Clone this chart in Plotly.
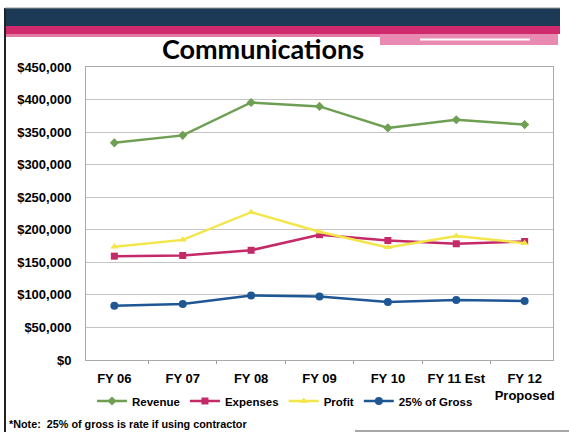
import plotly.graph_objects as go

# Data
years = ["FY 06", "FY 07", "FY 08", "FY 09", "FY 10", "FY 11 Est", "FY 12<br>Proposed"]
revenue = [333500, 345000, 395500, 389500, 356500, 369000, 361500]
expenses = [159500, 160500, 168500, 192500, 183500, 178500, 182000]
profit = [174000, 184500, 227000, 197000, 173000, 190500, 179500]
gross_25 = [83500, 86000, 99000, 97500, 89000, 92000, 90500]

W, H = 569, 432
L, R, T, B = 86, 16, 67, 72
PW, PH = W - L - R, H - T - B


def px(x):
    return (x - L) / PW


def py(y):
    return (H - B - y) / PH


fig = go.Figure()

series = [
    ("Revenue", revenue, "#6f9f52", "diamond", 7),
    ("Expenses", expenses, "#c42a68", "square", 7),
    ("Profit", profit, "#f2e64a", "triangle-up", 7),
    ("25% of Gross", gross_25, "#1f5794", "circle", 8),
]
for name, vals, color, sym, size in series:
    fig.add_trace(go.Scatter(
        x=years, y=vals, name=name, mode="lines+markers",
        line=dict(color=color, width=2.5),
        marker=dict(symbol=sym, size=size, color=color),
    ))


def rect(x0, x1, y0, y1, color):
    return dict(type="rect", xref="paper", yref="paper",
                x0=px(x0), x1=px(x1), y0=py(y1), y1=py(y0),
                fillcolor=color, line=dict(width=0), layer="below")


# banner stripes and slide frame
shapes = [
    rect(5, 560, 8, 27, "#1c3a55"),
    rect(5, 560, 26, 34, "#d02a6c"),
    rect(5, 380, 34, 37, "#e27aa4"),
    rect(380, 558, 34, 45, "#e88ab2"),
    rect(420, 530, 38.5, 40.5, "white"),
    dict(type="line", xref="paper", yref="paper", x0=px(5), x1=px(5), y0=py(432), y1=py(8),
         line=dict(color="#222222", width=2)),
    dict(type="line", xref="paper", yref="paper", x0=px(5), x1=px(560), y0=py(8), y1=py(8),
         line=dict(color="#999999", width=1)),
    dict(type="line", xref="paper", yref="paper", x0=px(355), x1=px(569), y0=py(431), y1=py(431),
         line=dict(color="#888888", width=1.5)),
]

fig.update_layout(
    width=W, height=H,
    margin=dict(l=L, r=R, t=T, b=B, autoexpand=False),
    paper_bgcolor="white", plot_bgcolor="white",
    font=dict(family="Liberation Sans, Arial, sans-serif", color="black"),
    title=dict(text="<b>Communications</b>", x=263 / W, xref="container", xanchor="center",
               y=1 - 50 / H, yref="container", yanchor="middle",
               font=dict(family="Lato, sans-serif", size=27, color="black")),
    shapes=shapes,
    showlegend=True,
    legend=dict(orientation="h", x=px(285), xanchor="center", y=py(401), yanchor="middle",
                font=dict(size=11.5, weight="bold"),
                itemwidth=30, tracegroupgap=0, bgcolor="rgba(0,0,0,0)"),
    annotations=[dict(
        text="<b>*Note:  25% of gross is rate if using contractor</b>",
        xref="paper", yref="paper", x=px(7), y=py(424), xanchor="left", yanchor="middle",
        showarrow=False, font=dict(size=10.8),
    )],
)

fig.update_xaxes(
    showgrid=False, showline=True, linecolor="#aaaaaa", mirror=True,
    ticks="outside", ticklen=3, tickcolor="#999999", ticklabelstandoff=6,
    tickson="boundaries",
    tickfont=dict(size=13, weight="bold"),
)
fig.update_yaxes(
    range=[0, 450000], dtick=50000, tickformat="$,.0f",
    showgrid=True, gridcolor="#c4c4c4", gridwidth=1,
    showline=True, linecolor="#aaaaaa", mirror=True, zeroline=False,
    ticks="outside", ticklen=11, tickcolor="rgba(0,0,0,0)",
    tickfont=dict(size=13, weight="bold"),
)

# drop the default page margin so the figure sits at the window's top-left corner
fig.write_html("out.html", config={"displayModeBar": False},
               post_script="document.body.style.margin='0';")
